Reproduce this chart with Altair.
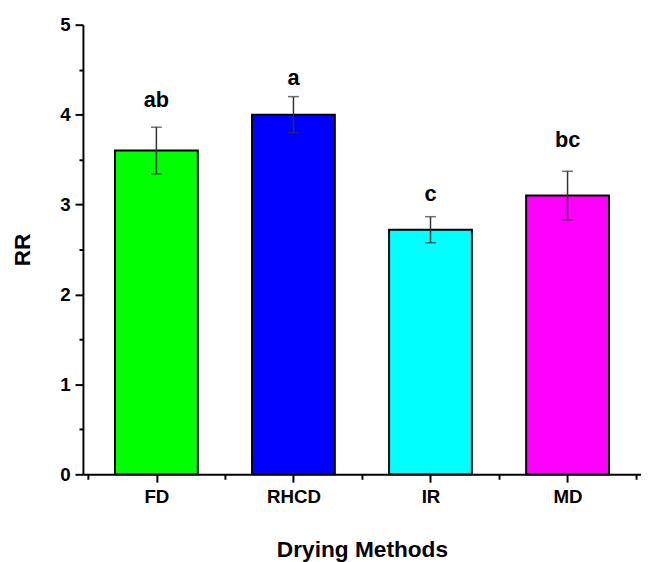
import altair as alt
import pandas as pd

methods = ["FD", "RHCD", "IR", "MD"]
rr_mean = [3.60, 4.00, 2.72, 3.10]
rr_err = [0.26, 0.20, 0.145, 0.27]
letters = ["ab", "a", "c", "bc"]
letter_y = [4.08, 4.33, 3.04, 3.64]
colors = ["#00FF00", "#0000FF", "#00FFFF", "#FF00FF"]

df = pd.DataFrame({
    "method": methods,
    "pos": [i + 0.5 for i in range(len(methods))],
    "rr": rr_mean,
    "lo": [m - e for m, e in zip(rr_mean, rr_err)],
    "hi": [m + e for m, e in zip(rr_mean, rr_err)],
    "letter": letters,
    "letter_y": letter_y,
    "color": colors,
})

label_map = "{" + ",".join(f"'{p}':'{m}'" for p, m in zip(df["pos"], methods)) + "}"

common = dict(tickWidth=2, tickColor="black", domainColor="black", domainWidth=2,
              labelFont="Liberation Sans", labelFontWeight="bold", labelFontSize=19,
              labelColor="black", titleFont="Liberation Sans", titleFontWeight="bold",
              titleFontSize=23, titleColor="black", grid=False)

x_axis = alt.Axis(
    title="Drying Methods", orient="bottom",
    values=list(df["pos"]),
    labelExpr=f"({label_map})[toString(datum.value)] || ''",
    tickSize=8, labelPadding=6, titlePadding=32, **common,
)
x_minor = alt.Axis(
    title=None, orient="bottom", values=[float(i) for i in range(len(methods) + 1)],
    labels=False, domain=False, tickSize=5, tickWidth=2, tickColor="black", grid=False,
)
y_axis = alt.Axis(
    title="RR", orient="left", values=[0, 1, 2, 3, 4, 5], format="d",
    tickSize=8, labelPadding=5, titlePadding=26, **common,
)
y_minor = alt.Axis(
    title=None, orient="left", values=[0.5, 1.5, 2.5, 3.5, 4.5],
    labels=False, domain=False, tickSize=4, tickWidth=2, tickColor="black", grid=False,
)

xs = alt.Scale(domain=[0, len(methods)], nice=False, zero=False)
ys = alt.Scale(domain=[0, 5], nice=False)

base = alt.Chart(df)
X = lambda f: alt.X(f, scale=xs, axis=None)
Y = lambda f: alt.Y(f, scale=ys, axis=None)

bars = base.mark_bar(size=84, stroke="black", strokeWidth=2).encode(
    x=alt.X("pos:Q", scale=xs, axis=x_axis),
    y=alt.Y("rr:Q", scale=ys, axis=y_axis),
    color=alt.Color("color:N", scale=None),
)
minor = base.mark_point(opacity=0).encode(
    x=alt.X("pos:Q", scale=xs, axis=x_minor),
    y=alt.Y("rr:Q", scale=ys, axis=y_minor),
)
rules = base.mark_rule(color="#333333", strokeWidth=1.5).encode(
    x=X("pos:Q"), y=Y("lo:Q"), y2="hi:Q"
)
caps_lo = base.mark_tick(orient="horizontal", size=11, thickness=1.5, color="#333333").encode(
    x=X("pos:Q"), y=Y("lo:Q")
)
caps_hi = base.mark_tick(orient="horizontal", size=11, thickness=1.5, color="#333333").encode(
    x=X("pos:Q"), y=Y("hi:Q")
)
text = base.mark_text(
    font="Liberation Sans", fontWeight="bold", fontSize=22,
    baseline="alphabetic", color="black",
).encode(x=X("pos:Q"), y=Y("letter_y:Q"), text="letter:N")

chart = alt.layer(bars, minor, rules, caps_lo, caps_hi, text).resolve_axis(
    x="independent", y="independent"
).properties(
    width=566, height=456,
    autosize=alt.AutoSizeParams(type="none"),
    padding={"left": 76, "top": 13, "right": 0, "bottom": 85},
).configure_view(stroke=None)

chart.save("out.html", embed_options={"renderer": "svg", "actions": False})
